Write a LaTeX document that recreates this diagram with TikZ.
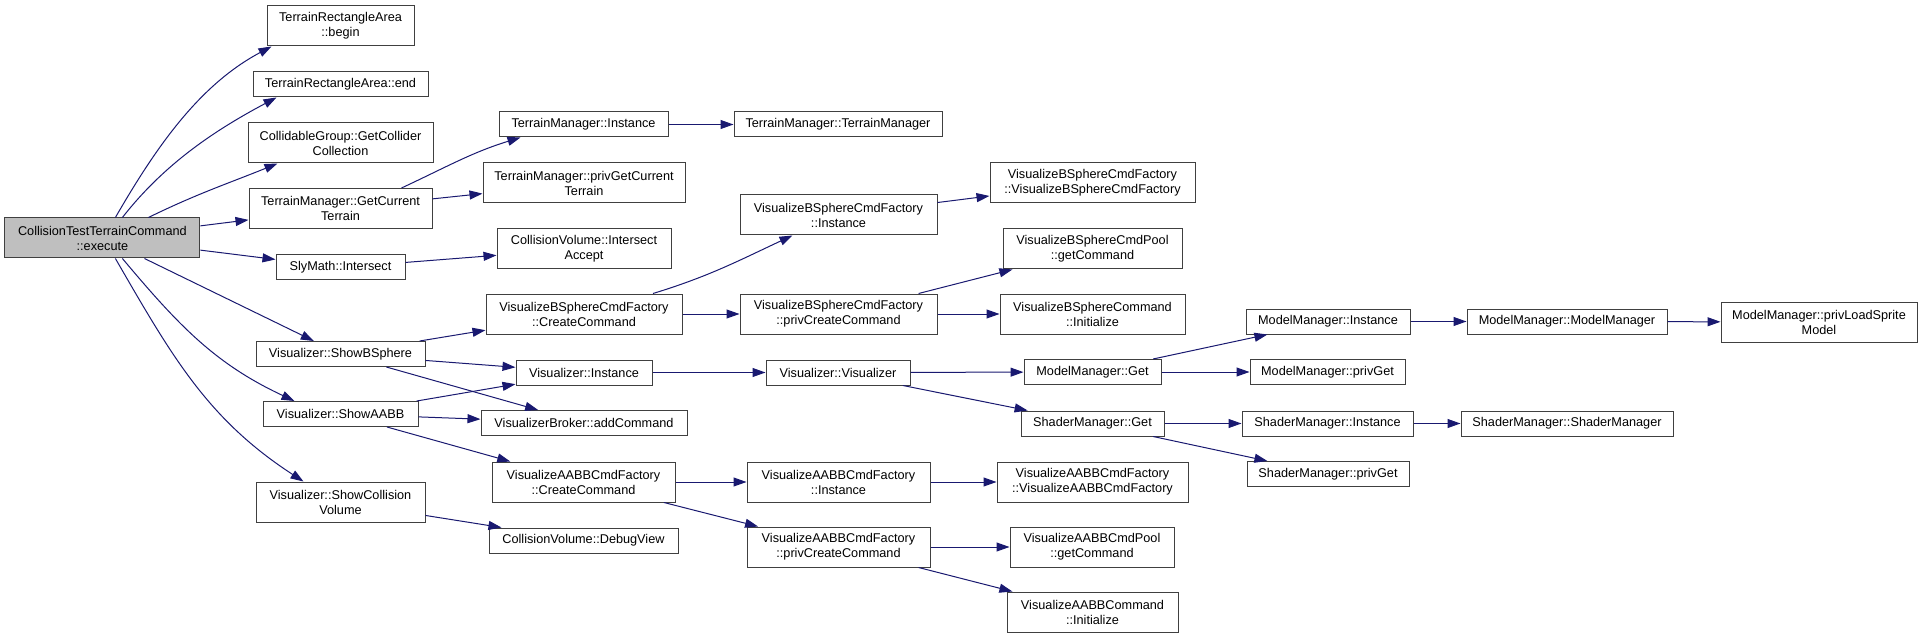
\documentclass[tikz,border=0pt]{standalone}
\usepackage{fontspec}
\setmainfont{Liberation Sans}
\usetikzlibrary{arrows.meta}
\definecolor{callblue}{HTML}{191970}
\definecolor{boxline}{HTML}{404040}
\definecolor{rootfill}{HTML}{BFBFBF}
\tikzset{
  fn/.style={draw=boxline, line width=1pt, fill=white, inner sep=0pt, align=center,
    minimum height=25pt, font=\fontsize{12.7}{15}\selectfont},
  fnn/.style={fn, minimum height=40pt},
  root/.style={fnn, fill=rootfill},
  call/.style={draw=callblue, line width=1pt, -{Triangle[length=13pt,width=9pt]}}
}
\begin{document}
\begin{tikzpicture}[x=1pt,y=1pt]
    \useasboundingbox (0,0) rectangle (1923,-639);

    \node[root, minimum width=195] (exec) at (102.4,-238) {CollisionTestTerrainCommand\\::execute};

    \node[fnn, minimum width=147] (trbegin) at (340.5,-26) {TerrainRectangleArea\\::begin};
    \node[fn, minimum width=175] (trend) at (340.5,-84.5) {TerrainRectangleArea::end};
    \node[fnn, minimum width=185] (cgget) at (340.5,-143) {CollidableGroup::GetCollider\\Collection};
    \node[fnn, minimum width=183] (tmget) at (340.5,-208.5) {TerrainManager::GetCurrent\\Terrain};
    \node[fn, minimum width=129] (slyint) at (340.5,-267.5) {SlyMath::Intersect};
    \node[fn, minimum width=169] (showbs) at (340.5,-354) {Visualizer::ShowBSphere};
    \node[fn, minimum width=155] (showaabb) at (340.5,-414) {Visualizer::ShowAABB};
    \node[fnn, minimum width=169] (showcv) at (340.5,-502) {Visualizer::ShowCollision\\Volume};

    \node[fn, minimum width=169] (tminst) at (583.5,-124.5) {TerrainManager::Instance};
    \node[fnn, minimum width=202] (tmpriv) at (584,-183) {TerrainManager::privGetCurrent\\Terrain};
    \node[fnn, minimum width=174] (cvia) at (584,-248.5) {CollisionVolume::Intersect\\Accept};
    \node[fnn, minimum width=196] (bscreate) at (584,-314) {VisualizeBSphereCmdFactory\\::CreateCommand};
    \node[fn, minimum width=136] (vinst) at (584,-372.5) {Visualizer::Instance};
    \node[fn, minimum width=206] (vbadd) at (584,-423) {VisualizerBroker::addCommand};
    \node[fnn, minimum width=183] (aabbcreate) at (583.5,-482) {VisualizeAABBCmdFactory\\::CreateCommand};
    \node[fn, minimum width=189] (cvdebug) at (583.5,-540.5) {CollisionVolume::DebugView};

    \node[fn, minimum width=208] (tmctor) at (838,-124.5) {TerrainManager::TerrainManager};
    \node[fnn, minimum width=197] (bsinst) at (838.5,-215) {VisualizeBSphereCmdFactory\\::Instance};
    \node[fnn, minimum width=197] (bspriv) at (838.5,-314) {VisualizeBSphereCmdFactory\\::privCreateCommand};
    \node[fn, minimum width=144] (vctor) at (838,-372.5) {Visualizer::Visualizer};
    \node[fnn, minimum width=183] (aabbinst) at (838.5,-482) {VisualizeAABBCmdFactory\\::Instance};
    \node[fnn, minimum width=183] (aabbpriv) at (838.5,-547) {VisualizeAABBCmdFactory\\::privCreateCommand};

    \node[fnn, minimum width=205] (bsctor) at (1092.5,-183) {VisualizeBSphereCmdFactory\\::VisualizeBSphereCmdFactory};
    \node[fnn, minimum width=179] (bspool) at (1092.5,-249) {VisualizeBSphereCmdPool\\::getCommand};
    \node[fnn, minimum width=185] (bsinit) at (1092.5,-314) {VisualizeBSphereCommand\\::Initialize};
    \node[fn, minimum width=137] (mmget) at (1092.5,-372) {ModelManager::Get};
    \node[fn, minimum width=143] (shget) at (1092.5,-423.5) {ShaderManager::Get};
    \node[fnn, minimum width=191] (aabbctor) at (1092.5,-482) {VisualizeAABBCmdFactory\\::VisualizeAABBCmdFactory};
    \node[fnn, minimum width=164] (aabbpool) at (1092,-547) {VisualizeAABBCmdPool\\::getCommand};
    \node[fnn, minimum width=171] (aabbinit) at (1092.5,-612) {VisualizeAABBCommand\\::Initialize};

    \node[fn, minimum width=164] (mminst) at (1328,-321.5) {ModelManager::Instance};
    \node[fn, minimum width=155] (mmpriv) at (1327.5,-372) {ModelManager::privGet};
    \node[fn, minimum width=171] (shinst) at (1327.5,-423.5) {ShaderManager::Instance};
    \node[fn, minimum width=162] (shpriv) at (1328,-474) {ShaderManager::privGet};

    \node[fn, minimum width=200] (mmctor) at (1567,-321.5) {ModelManager::ModelManager};
    \node[fn, minimum width=212] (shctor) at (1567,-423.5) {ShaderManager::ShaderManager};
    \node[fnn, minimum width=196] (mmload) at (1819,-322) {ModelManager::privLoadSprite\\Model};

    \draw[call] ([xshift=13]exec.north) to[out=60,in=208,looseness=0.9] ([xshift=5]trbegin.south west);
    \draw[call] ([xshift=20]exec.north) to[out=52,in=208,looseness=0.9] ([xshift=24]trend.south west);
    \draw[call] ([xshift=46]exec.north) to[out=26,in=202] ([xshift=30]cgget.south west);
    \draw[call] (exec) -- (tmget);
    \draw[call] (exec) -- (slyint);
    \draw[call] (exec) -- (showbs);
    \draw[call] ([xshift=20]exec.south) to[out=-50,in=155] ([xshift=32]showaabb.north west);
    \draw[call] ([xshift=13]exec.south) to[out=-60,in=147] ([xshift=48]showcv.north west);

    \draw[call] ([xshift=61]tmget.north) to[out=25,in=197] ([xshift=-63]tminst.south);
    \draw[call] (tmget) -- (tmpriv);
    \draw[call] (tminst) -- (tmctor);
    \draw[call] (slyint) -- (cvia);

    \draw[call] (showbs) -- (bscreate);
    \draw[call] (showbs) -- (vinst);
    \draw[call] (showbs) -- (vbadd);
    \draw[call] (showaabb) -- (vinst);
    \draw[call] (showaabb) -- (vbadd);
    \draw[call] (showaabb) -- (aabbcreate);
    \draw[call] (showcv) -- (cvdebug);

    \draw[call] ([xshift=69]bscreate.north) to[out=17,in=205] ([xshift=-46]bsinst.south);
    \draw[call] (bscreate) -- (bspriv);
    \draw[call] (bsinst) -- (bsctor);
    \draw[call] (bspriv) -- (bspool);
    \draw[call] (bspriv) -- (bsinit);

    \draw[call] (vinst) -- (vctor);
    \draw[call] (vctor) -- (mmget);
    \draw[call] (vctor) -- (shget);
    \draw[call] (mmget) -- (mminst);
    \draw[call] (mmget) -- (mmpriv);
    \draw[call] (mminst) -- (mmctor);
    \draw[call] (mmctor) -- (mmload);
    \draw[call] (shget) -- (shinst);
    \draw[call] (shget) -- (shpriv);
    \draw[call] (shinst) -- (shctor);

    \draw[call] (aabbcreate) -- (aabbinst);
    \draw[call] (aabbcreate) -- (aabbpriv);
    \draw[call] (aabbinst) -- (aabbctor);
    \draw[call] (aabbpriv) -- (aabbpool);
    \draw[call] (aabbpriv) -- (aabbinit);
\end{tikzpicture}
\end{document}
